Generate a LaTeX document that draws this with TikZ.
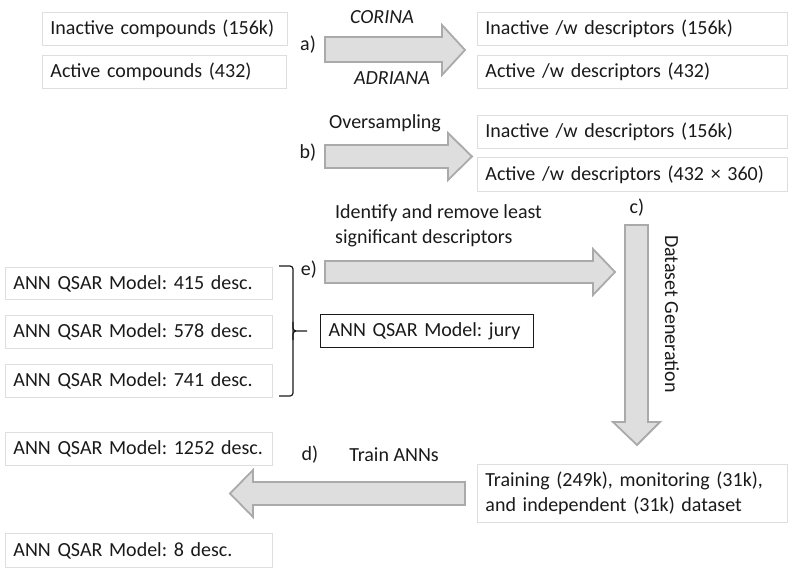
\documentclass[tikz,border=0pt]{standalone}
\usepackage{fontspec}
\setmainfont{Carlito}
\frenchspacing
\definecolor{boxline}{HTML}{DEDEDE}
\definecolor{arrfill}{HTML}{DEDEDE}
\definecolor{arrline}{HTML}{AAAAAA}
\definecolor{txt}{HTML}{1A1A1A}
\begin{document}
\begin{tikzpicture}[x=1pt,y=-1pt,
  every node/.style={text=txt,font=\fontsize{20}{24.5}\selectfont},
  lbox/.style={draw=boxline,line width=0.9pt,fill=white,anchor=north west,align=left,inner xsep=8pt,inner ysep=0pt},
  blockarr/.style={draw=arrline,fill=arrfill,line width=1.8pt,line join=miter},
  lab/.style={inner sep=0pt}]
\useasboundingbox (0,0) rectangle (800,576);
% a)
\node[lbox,minimum width=245,minimum height=33,text width=229] (inc) at (42,12) {\mbox{Inactive compounds (156k)}};
\node[lbox,minimum width=244,minimum height=33,text width=228] (acc) at (42,55) {\mbox{Active compounds (432)}};
\node[lbox,minimum width=310,minimum height=33,text width=294] (incd) at (477,12) {\mbox{Inactive /w descriptors (156k)}};
\node[lbox,minimum width=310,minimum height=33,text width=294] (accd) at (477,55) {\mbox{Active /w descriptors (432)}};
\node[lab] (la) at (308,45) {a)};
\node[lab,font=\fontsize{20}{24.5}\selectfont\itshape] (corina) at (382,17) {CORINA};
\node[lab,font=\fontsize{20}{24.5}\selectfont\itshape] (adriana) at (392,78) {ADRIANA};
\draw[blockarr] (325,37) -- (442,37) -- (442,25) -- (465,50) -- (442,75) -- (442,62) -- (325,62) -- cycle;
% b)
\node[lbox,minimum width=310,minimum height=33,text width=294] (incs) at (477,115) {\mbox{Inactive /w descriptors (156k)}};
\node[lbox,minimum width=310,minimum height=34,text width=294] (accs) at (477,157) {\mbox{Active /w descriptors (432 × 360)}};
\node[lab] (lb) at (308,153) {b)};
\node[lab] (overs) at (385,123) {Oversampling};
\draw[blockarr] (325,145) -- (448,145) -- (448,133) -- (472,156.5) -- (448,180) -- (448,168) -- (325,168) -- cycle;
% c)
\node[lab] (lc) at (637,208) {c)};
\draw[blockarr] (625,225) -- (648,225) -- (648,422) -- (660,422) -- (637,445) -- (613,422) -- (625,422) -- cycle;
\node[lab,rotate=-90] (dsgen) at (672,314) {Dataset Generation};
% e)
\node[lab,anchor=west,align=left] (ident) at (335,226) {Identify and remove least\\significant descriptors};
\node[lab] (le) at (309,270) {e)};
\draw[blockarr] (325,261) -- (593,261) -- (593,249) -- (615,272) -- (593,295) -- (593,283) -- (325,283) -- cycle;
\node[lbox,minimum width=267,minimum height=32,text width=251] (m415) at (5,267) {\mbox{ANN QSAR Model: 415 desc.}};
\node[lbox,minimum width=267,minimum height=33,text width=251] (m578) at (5,315) {\mbox{ANN QSAR Model: 578 desc.}};
\node[lbox,minimum width=267,minimum height=33,text width=251] (m741) at (5,364) {\mbox{ANN QSAR Model: 741 desc.}};
\node[lbox,draw=txt,line width=1.2pt,minimum width=213,minimum height=33,text width=197] (jury) at (320,314) {\mbox{ANN QSAR Model: jury}};
\draw[txt,line width=1.2pt,rounded corners=3pt] (279,266) -- (293,266) -- (293,331) -- (293,396) -- (279,396);
\draw[txt,line width=1.2pt,rounded corners=3pt] (293,322) -- (293,331) -- (307,331);
\draw[txt,line width=1.2pt,rounded corners=3pt] (293,340) -- (293,331) -- (296,331);
% d)
\node[lbox,minimum width=267,minimum height=33,text width=251] (m1252) at (5,432) {\mbox{ANN QSAR Model: 1252 desc.}};
\node[lbox,minimum width=267,minimum height=34,text width=251] (m8) at (5,533) {\mbox{ANN QSAR Model: 8 desc.}};
\node[lbox,minimum width=310,minimum height=58,text width=294] (train) at (477,464) {\mbox{Training (249k), monitoring (31k),}\\\mbox{and independent (31k) dataset}};
\node[lab] (ld) at (310,455) {d)};
\node[lab] (trainann) at (394,455) {Train ANNs};
\draw[blockarr] (465,482) -- (253,482) -- (253,470) -- (230,493.5) -- (253,517) -- (253,505) -- (465,505) -- cycle;
\end{tikzpicture}
\end{document}
